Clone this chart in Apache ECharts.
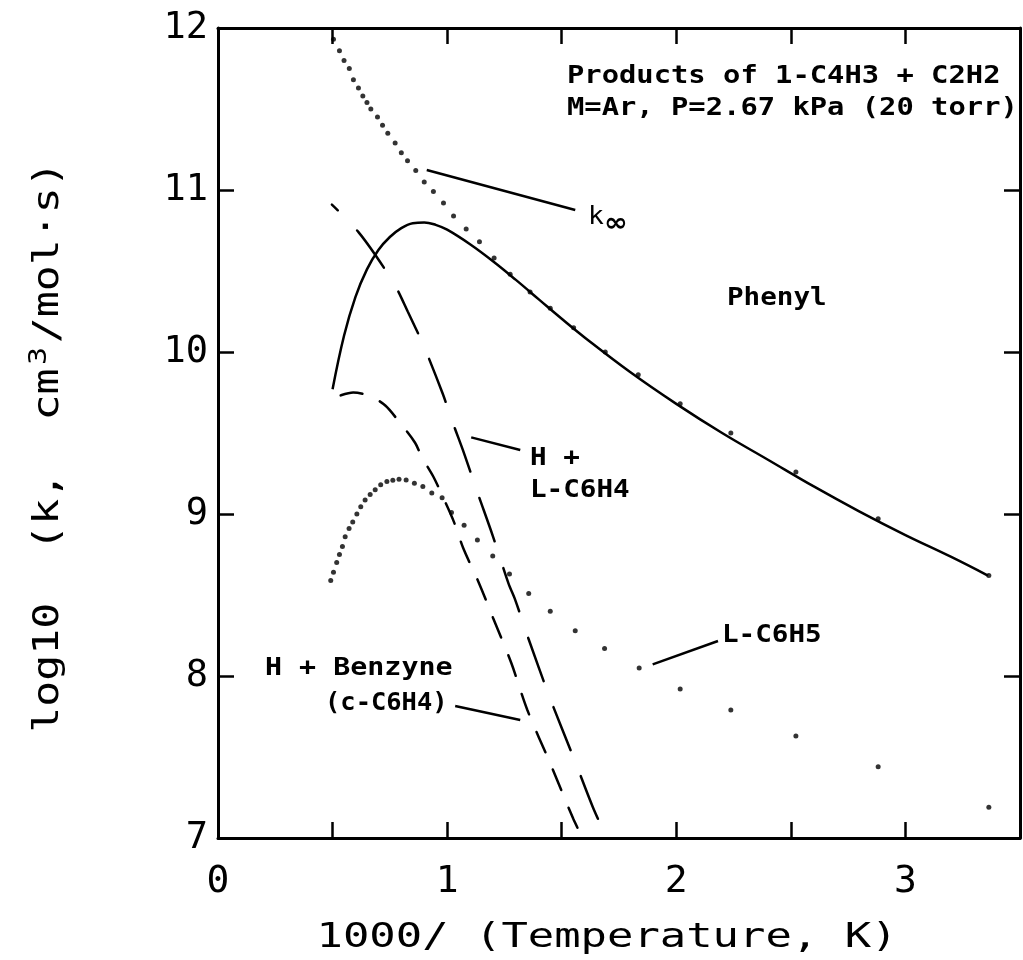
<!DOCTYPE html>
<html>
<head>
<meta charset="utf-8">
<script src="https://cdn.jsdelivr.net/npm/echarts@6/dist/echarts.min.js"></script>
<style>html,body{margin:0;padding:0;background:#fff;}#c{width:1023px;height:960px;}</style>
</head>
<body>
<div id="c"></div>
<script>
// ---- data ----
const phenylX = [0.5,0.55,0.6,0.65,0.7,0.75,0.8,0.85,0.9,0.95,1.0,1.1,1.2,1.3,1.4,1.5,1.6,1.8,2.0,2.2,2.4,2.6,2.8,3.0,3.2,3.36];
const phenylY = [9.77,10.10,10.34,10.51,10.63,10.71,10.765,10.795,10.80,10.785,10.755,10.665,10.56,10.445,10.325,10.205,10.09,9.875,9.68,9.50,9.335,9.17,9.015,8.87,8.735,8.62];

const kinfX = [0.504,0.53,0.55,0.573,0.591,0.613,0.632,0.65,0.667,0.696,0.718,0.741,0.773,0.80,0.827,0.863,0.900,0.940,0.984,1.028,1.083,1.141,1.205,1.275,1.362,1.45,1.552,1.69,1.834,2.017,2.238,2.522,2.881,3.364];
const kinfY = [11.93,11.86,11.80,11.75,11.68,11.63,11.58,11.54,11.50,11.45,11.40,11.35,11.29,11.23,11.18,11.12,11.05,10.99,10.92,10.84,10.76,10.68,10.58,10.48,10.37,10.27,10.15,10.00,9.86,9.68,9.50,9.26,8.97,8.62];

const lc6h5X = [0.492,0.504,0.518,0.530,0.543,0.555,0.572,0.588,0.606,0.623,0.642,0.664,0.686,0.710,0.737,0.763,0.790,0.821,0.857,0.894,0.933,0.978,1.019,1.074,1.132,1.199,1.272,1.356,1.45,1.559,1.687,1.838,2.017,2.238,2.522,2.881,3.364];
const lc6h5Y = [8.59,8.64,8.70,8.75,8.80,8.86,8.91,8.95,9.00,9.045,9.086,9.12,9.15,9.18,9.20,9.208,9.214,9.21,9.19,9.17,9.13,9.10,9.01,8.93,8.84,8.74,8.63,8.51,8.40,8.28,8.17,8.05,7.92,7.79,7.63,7.44,7.19];

const lc6h4X = [0.497,0.526,0.613,0.686,0.773,0.828,0.897,0.98,1.023,1.075,1.133,1.198,1.268,1.297,1.355,1.447,1.559,1.636,1.69];
const lc6h4Y = [10.91,10.87,10.74,10.60,10.41,10.25,10.04,9.745,9.57,9.37,9.13,8.87,8.57,8.47,8.23,7.87,7.47,7.19,7.02];

const benzX = [0.5,0.53,0.59,0.66,0.73,0.79,0.86,0.89,0.94,0.98,1.03,1.07,1.14,1.2,1.28,1.35,1.45,1.55,1.584];
const benzY = [9.71,9.73,9.75,9.73,9.67,9.57,9.44,9.35,9.23,9.11,8.95,8.79,8.57,8.36,8.08,7.79,7.46,7.12,7.02];

const xTickLabels = ['0','1','2','3'];
const yTickLabels = ['7','8','9','10','11','12'];

// leader lines (data coordinates)
const leaderKinf = [[0.911,11.123],[1.559,10.877]];
const leaderLC6H4 = [[1.105,9.473],[1.319,9.395]];
const leaderLC6H5 = [[1.897,8.072],[2.182,8.216]];
const leaderBenz = [[1.035,7.815],[1.319,7.728]];

const zip = (xs, ys) => xs.map((x, i) => [x, ys[i]]);
const FONT = "'DejaVu Sans Mono', 'Liberation Mono', monospace";
const INK = '#000';

const chart = echarts.init(document.getElementById('c'), null, {renderer: 'canvas'});

const axisCommon = {
  axisLine: {show: true, onZero: false, lineStyle: {color: INK, width: 3}},
  axisTick: {show: true, inside: true, length: 16, lineStyle: {color: INK, width: 2.5}},
  splitLine: {show: false}
};

function leader(pts) {
  return [{coord: pts[0]}, {coord: pts[1]}];
}

const option = {
  backgroundColor: '#fff',
  animation: false,
  grid: {left: 218, right: 3, top: 28, bottom: 122, containLabel: false},
  xAxis: [
    Object.assign({
      type: 'value', min: 0, max: 3.5, interval: 0.5, position: 'bottom',
      axisLabel: {
        show: true, margin: 25, color: INK, fontFamily: FONT, fontSize: 38,
        formatter: v => (Number.isInteger(v) && xTickLabels.includes(String(v))) ? String(v) : ''
      }
    }, axisCommon),
    Object.assign({
      type: 'value', min: 0, max: 3.5, interval: 0.5, position: 'top',
      axisLabel: {show: false}
    }, axisCommon)
  ],
  yAxis: [
    Object.assign({
      type: 'value', min: 7, max: 12, interval: 1, position: 'left',
      axisLabel: {
        show: true, margin: 10, color: INK, fontFamily: FONT, fontSize: 37,
        formatter: v => yTickLabels.includes(String(v)) ? String(v) : ''
      }
    }, axisCommon),
    Object.assign({
      type: 'value', min: 7, max: 12, interval: 1, position: 'right',
      axisLabel: {show: false}
    }, axisCommon)
  ],
  series: [
    {
      name: 'Phenyl', type: 'line', data: zip(phenylX, phenylY), smooth: 0.4,
      showSymbol: false, lineStyle: {color: INK, width: 2.5, type: 'solid'},
      markLine: {
        silent: true, symbol: ['none', 'none'],
        label: {show: false},
        lineStyle: {color: INK, width: 2.5, type: 'solid'},
        data: [leader(leaderKinf), leader(leaderLC6H4), leader(leaderLC6H5), leader(leaderBenz)]
      }
    },
    {
      name: 'H + L-C6H4', type: 'line', data: zip(lc6h4X, lc6h4Y), smooth: 0.3,
      showSymbol: false, lineStyle: {color: INK, width: 2.5, type: [46, 28], dashOffset: 38, cap: 'round'}
    },
    {
      name: 'H + Benzyne', type: 'line', data: zip(benzX, benzY), smooth: 0.3,
      showSymbol: false, lineStyle: {color: INK, width: 2.5, type: [22, 19], dashOffset: 32, cap: 'round'}
    },
    {
      name: 'k∞', type: 'scatter', data: zip(kinfX, kinfY),
      symbol: 'circle', symbolSize: 5, itemStyle: {color: INK}
    },
    {
      name: 'L-C6H5', type: 'scatter', data: zip(lc6h5X, lc6h5Y),
      symbol: 'circle', symbolSize: 5, itemStyle: {color: INK}
    }
  ],
  graphic: [
    // axis titles
    {
      type: 'text', x: 607, y: 938, scaleX: 1.29,
      style: {text: '1000/ (Temperature, K)', font: "34px " + FONT, fill: INK, align: 'center', verticalAlign: 'middle'}
    },
    {
      type: 'text', x: 47, y: 447, rotation: Math.PI / 2, scaleX: 1.2,
      style: {
        text: '{a|log10  (k,  cm}{s|3}{a|/mol·s)}',
        align: 'center', verticalAlign: 'middle', fill: INK,
        rich: {
          a: {fontFamily: FONT, fontSize: 36, lineHeight: 40, fill: INK, color: INK, verticalAlign: 'bottom'},
          s: {fontFamily: FONT, fontSize: 25, lineHeight: 25, fill: INK, color: INK, verticalAlign: 'top', padding: [0, 3, 0, 3]}
        }
      }
    },
    // annotations
    {type: 'text', x: 567, y: 77, scaleX: 1.2,
     style: {text: 'Products of 1-C4H3 + C2H2', font: "bold 24px " + FONT, fill: INK, align: 'left', verticalAlign: 'middle'}},
    {type: 'text', x: 567, y: 109, scaleX: 1.2,
     style: {text: 'M=Ar, P=2.67 kPa (20 torr)', font: "bold 24px " + FONT, fill: INK, align: 'left', verticalAlign: 'middle'}},
    {type: 'text', x: 588, y: 218, scaleX: 1.1,
     style: {
       text: '{k|k}{s|∞}', align: 'left', verticalAlign: 'middle', fill: INK,
       rich: {
         k: {fontFamily: FONT, fontSize: 24, fill: INK, color: INK},
         s: {fontFamily: 'DejaVu Sans', fontSize: 26, fontWeight: 'bold', fill: INK, color: INK, verticalAlign: 'bottom', padding: [12, 0, 0, 0]}
       }
     }},
    {type: 'text', x: 727, y: 299, scaleX: 1.15,
     style: {text: 'Phenyl', font: "bold 24px " + FONT, fill: INK, align: 'left', verticalAlign: 'middle'}},
    {type: 'text', x: 530, y: 459, scaleX: 1.15,
     style: {text: 'H +', font: "bold 24px " + FONT, fill: INK, align: 'left', verticalAlign: 'middle'}},
    {type: 'text', x: 530, y: 491, scaleX: 1.15,
     style: {text: 'L-C6H4', font: "bold 24px " + FONT, fill: INK, align: 'left', verticalAlign: 'middle'}},
    {type: 'text', x: 722, y: 636, scaleX: 1.15,
     style: {text: 'L-C6H5', font: "bold 24px " + FONT, fill: INK, align: 'left', verticalAlign: 'middle'}},
    {type: 'text', x: 265, y: 669, scaleX: 1.18,
     style: {text: 'H + Benzyne', font: "bold 24px " + FONT, fill: INK, align: 'left', verticalAlign: 'middle'}},
    {type: 'text', x: 325, y: 704, scaleX: 1.06,
     style: {text: '(c-C6H4)', font: "bold 24px " + FONT, fill: INK, align: 'left', verticalAlign: 'middle'}}
  ]
};

chart.setOption(option);
</script>
</body>
</html>
